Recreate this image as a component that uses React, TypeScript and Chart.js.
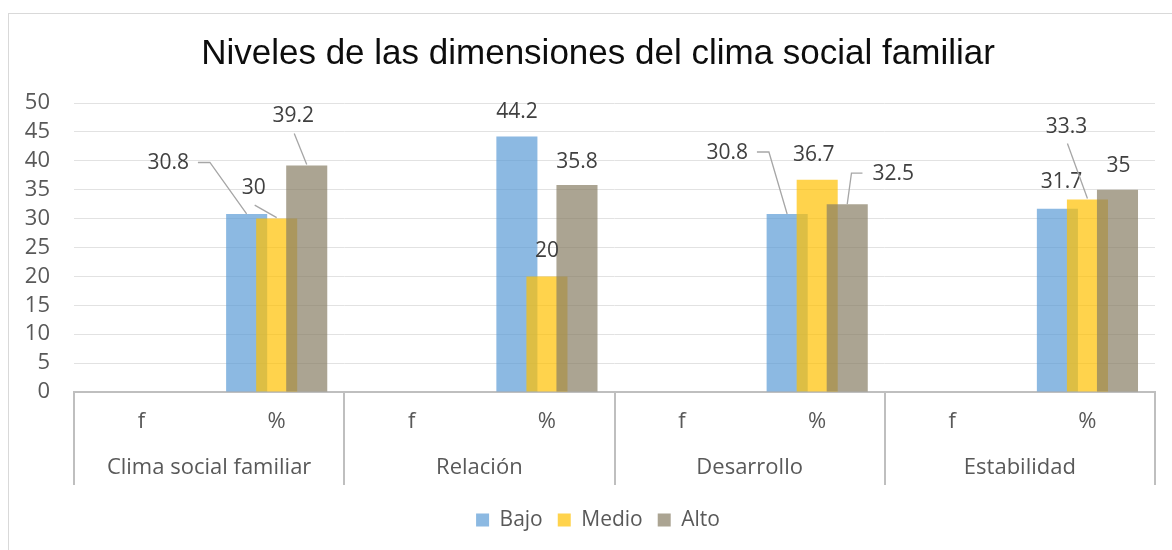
import React, { useEffect, useRef } from "react";
import { Chart, registerables } from "chart.js";

Chart.register(...registerables);

// ---------- data ----------
const chartTitle = "Niveles de las dimensiones del clima social familiar";
const subLabels = ["f", "%", "f", "%", "f", "%", "f", "%"];
const groupLabels = ["Clima social familiar", "Relación", "Desarrollo", "Estabilidad"];
const seriesNames = ["Bajo", "Medio", "Alto"];
const bajo = [null, 30.8, null, 44.2, null, 30.8, null, 31.7];
const medio = [null, 30, null, 20, null, 36.7, null, 33.3];
const alto = [null, 39.2, null, 35.8, null, 32.5, null, 35];
const yMin = 0;
const yMax = 50;
const yStep = 5;

// ---------- styles ----------
const seriesColors = ["rgba(91,155,213,0.7)", "rgba(255,192,0,0.7)", "rgba(135,126,100,0.7)"];
const FONT = '"Open Sans", "DejaVu Sans", sans-serif';
const TICK_COLOR = "#595959";
const LABEL_COLOR = "#404040";
const AXIS_COLOR = "#BFBFBF";
const LEADER_COLOR = "#A6A6A6";
const CANVAS_W = 1196;
const CANVAS_H = 550;

type Place = { dx: number; dy: number; leader?: "right" | "left" | "below" } | null;
// label offsets from the top centre of each bar (manual label placement, like the original)
const labelPlacement: Place[][] = [
  [null, { dx: -78.5, dy: -50.5, leader: "right" }, null, { dx: 0, dy: -25 }, null, { dx: -60, dy: -61, leader: "right" }, null, { dx: 4, dy: -27 }],
  [null, { dx: -23, dy: -30.5, leader: "below" }, null, { dx: 0, dy: -25.5 }, null, { dx: -3.5, dy: -25 }, null, { dx: -21, dy: -73, leader: "below" }],
  [null, { dx: -13.5, dy: -49, leader: "below" }, null, { dx: 0, dy: -23 }, null, { dx: 46, dy: -30, leader: "left" }, null, { dx: 1, dy: -24 }],
];

// give the y tick labels room to the left of the (narrow) y scale box
const yLabelRoom = {
  id: "yLabelRoom",
  afterLayout(chart: any) {
    chart.scales.y.left = 0;
  },
};

const orderedDraw = {
  id: "orderedDraw",
  beforeDatasetsDraw(chart: any) {
    const ctx = chart.ctx;
    const a = chart.chartArea;
    ctx.save();
    ctx.beginPath();
    ctx.rect(a.left, a.top - 1, a.right - a.left, a.bottom - a.top + 1);
    ctx.clip();
    for (let i = 0; i < chart.data.datasets.length; i++) {
      const meta = chart.getDatasetMeta(i);
      if (!meta.hidden) meta.controller.draw();
    }
    ctx.restore();
    return false;
  },
};

const categorySeparators = {
  id: "categorySeparators",
  afterDraw(chart: any) {
    const x = chart.scales.x;
    const x2 = chart.scales.x2;
    const ctx = chart.ctx;
    const xs: number[] = [x.left];
    for (let k = 1; k < groupLabels.length; k++) {
      xs.push((x.getPixelForValue(2 * k - 1) + x.getPixelForValue(2 * k)) / 2);
    }
    xs.push(x.right);
    ctx.save();
    ctx.strokeStyle = AXIS_COLOR;
    ctx.lineWidth = 2;
    xs.forEach((px) => {
      ctx.beginPath();
      ctx.moveTo(Math.round(px), x.top);
      ctx.lineTo(Math.round(px), x2.top + 33);
      ctx.stroke();
    });
    ctx.restore();
  },
};

const dataLabels = {
  id: "dataLabels",
  afterDraw(chart: any) {
    const ctx = chart.ctx;
    ctx.save();
    ctx.font = `21px ${FONT}`;
    ctx.textAlign = "center";
    ctx.textBaseline = "middle";
    chart.data.datasets.forEach((ds: any, i: number) => {
      const meta = chart.getDatasetMeta(i);
      meta.data.forEach((el: any, j: number) => {
        const v = ds.data[j];
        if (v === null || v === undefined) return;
        const p = labelPlacement[i][j] || { dx: 0, dy: -25 };
        const bx = el.x;
        const by = el.y;
        const lx = bx + p.dx;
        const ly = by + p.dy;
        const text = String(v);
        const w = ctx.measureText(text).width;
        if (p.leader) {
          ctx.strokeStyle = LEADER_COLOR;
          ctx.lineWidth = 1.3;
          ctx.beginPath();
          if (p.leader === "right") {
            const sx = lx + w / 2 + 9;
            ctx.moveTo(sx, ly - 1);
            ctx.lineTo(sx + 12, ly - 1);
            ctx.lineTo(bx, by);
          } else if (p.leader === "left") {
            const sx = lx - w / 2 - 10;
            ctx.moveTo(sx, ly - 1);
            ctx.lineTo(sx - 11, ly - 1);
            ctx.lineTo(bx, by);
          } else {
            ctx.moveTo(lx + 1, ly + 17);
            ctx.lineTo(bx, by - 1);
          }
          ctx.stroke();
        }
        ctx.fillStyle = LABEL_COLOR;
        ctx.fillText(text, lx, ly);
      });
    });
    ctx.restore();
  },
};

export default function App() {
  const ref = useRef<HTMLCanvasElement>(null);

  useEffect(() => {
    if (!ref.current) return;
    const series = [bajo, medio, alto];
    const chart = new Chart(ref.current, {
      type: "bar",
      data: {
        labels: subLabels,
        datasets: series.map((d, i) => ({
          label: seriesNames[i],
          data: d as any,
          backgroundColor: seriesColors[i],
          borderWidth: 0,
          barPercentage: 1.367,
          categoryPercentage: 0.667,
        })),
      },
      options: {
        animation: false,
        responsive: false,
        devicePixelRatio: 1,
        layout: { padding: { top: 13, right: 41, bottom: 9.5, left: 41 } },
        plugins: {
          title: {
            display: true,
            text: chartTitle,
            color: "#0D0D0D",
            font: { family: '"Liberation Sans", Arial, sans-serif', size: 35, weight: "normal" as any },
            padding: { top: 20, bottom: 28 },
          },
          legend: {
            position: "bottom",
            labels: {
              boxWidth: 13,
              boxHeight: 13,
              padding: 15,
              color: TICK_COLOR,
              font: { family: FONT, size: 21 },
            },
          },
          tooltip: { enabled: false },
        },
        scales: {
          x: {
            type: "category",
            position: "bottom",
            grid: { display: false, drawTicks: false },
            border: { display: true, color: AXIS_COLOR, width: 2 },
            ticks: { color: TICK_COLOR, font: { family: FONT, size: 22 }, padding: 17, maxRotation: 0, autoSkip: false },
            afterFit: (s: any) => {
              s.height = 60;
            },
          },
          x2: {
            type: "category",
            position: "bottom",
            labels: groupLabels,
            offset: true,
            grid: { display: false, drawTicks: false },
            border: { display: false },
            ticks: { color: TICK_COLOR, font: { family: FONT, size: 22 }, padding: 3, maxRotation: 0, autoSkip: false },
            afterFit: (s: any) => {
              s.height = 42.5;
            },
          },
          y: {
            min: yMin,
            max: yMax,
            ticks: { stepSize: yStep, color: TICK_COLOR, font: { family: FONT, size: 22 }, padding: 24, autoSkip: false },
            grid: { color: "#E2E2E2", drawTicks: false, lineWidth: 1 },
            border: { display: false },
            afterFit: (s: any) => {
              s.width = 33;
            },
          },
        },
      },
      plugins: [yLabelRoom, orderedDraw, categorySeparators, dataLabels],
    });
    return () => chart.destroy();
  }, []);

  return (
    <div style={{ position: "absolute", left: 0, top: 0, width: 1172, height: 550, overflow: "hidden", background: "#fff" }}>
      <div
        style={{
          position: "absolute",
          left: 8,
          top: 13,
          width: 1200,
          height: 600,
          border: "1px solid #D9D9D9",
          boxSizing: "border-box",
        }}
      />
      <canvas
        ref={ref}
        width={CANVAS_W}
        height={CANVAS_H}
        style={{ position: "absolute", left: 0, top: 0, width: CANVAS_W, height: CANVAS_H }}
      />
    </div>
  );
}
